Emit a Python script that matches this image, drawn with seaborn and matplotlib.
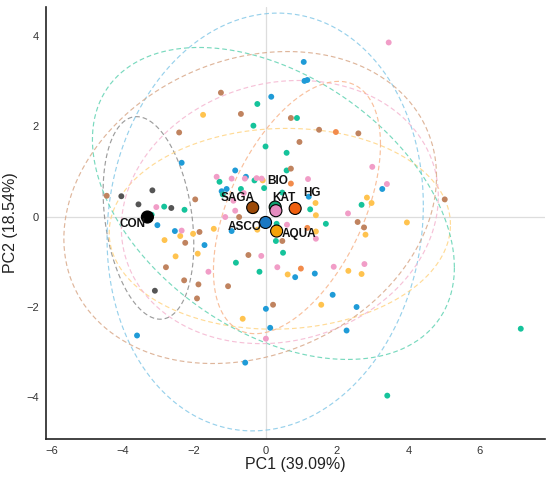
import numpy as np
import pandas as pd
import seaborn as sns
import matplotlib.pyplot as plt

# group order, used for hue / palette
groups = ["CON", "ASCO", "AQUA", "BIO", "KAT", "HG", "SAGA"]

# scores per group
con_x = [-4.04, -3.17, -3.56, -2.64, -3.10]
con_y = [0.45, 0.58, 0.27, 0.19, -1.64]

asco_x = [0.16, -2.35, -0.85, -0.55, -1.23, -1.09, 1.07, 1.09, 1.17, 3.27, 1.21, -3.03,
          -2.54, -1.71, -3.60, -0.57, 0.13, 0.01, 0.83, -0.95, 1.38, 1.88, 2.55, 2.27]
asco_y = [2.65, 1.19, 1.02, 0.88, 0.56, 0.61, 3.42, 3.00, 3.02, 0.61, 0.44, -0.19,
          -0.32, -0.63, -2.63, -3.23, -2.46, -2.04, -1.34, -0.32, -1.26, -1.73, -2.00, -2.52]

aqua_x = [-1.75, -0.08, 2.84, 2.97, 1.40, 1.41, -2.39, -2.03, -1.45, -2.83, -1.90,
          -2.52, -0.64, 0.62, 2.80, 3.96, 1.41, 2.32, 2.69, 1.56, -0.23, -0.31]
aqua_y = [2.25, 0.80, 0.42, 0.30, 0.30, 0.03, -0.43, -0.38, -0.27, -0.52, -0.82,
          -0.88, -2.26, -1.28, -0.40, -0.13, -0.33, -1.20, -1.27, -1.95, -0.29, 0.12]

bio_x = [-0.23, 0.88, -0.34, 0.00, 0.59, 0.59, -1.29, -0.31, -0.04, -1.20, -0.69, 0.47,
         -2.84, -2.27, -3.19, 2.69, 1.25, -0.83, -0.17, 0.49, 0.29, 0.31, 1.69, 7.15, 3.41]
bio_y = [2.49, 2.18, 2.01, 1.55, 1.41, 1.02, 0.77, 0.80, 0.63, 0.49, 0.61, 0.53,
         0.22, 0.15, 0.04, 0.26, 0.16, -1.02, -1.22, -0.80, -0.54, -0.16, -0.16, -2.48, -3.96]

kat_x = [3.45, -1.37, -0.95, -0.58, -0.25, -0.11, -0.61, -3.06, -0.85, 2.99, 1.19, 3.40,
         2.31, -2.35, -1.60, 0.01, -0.12, 0.33, 0.60, -1.13, 1.41, 1.91, 2.77, -0.90]
kat_y = [3.85, 0.88, 0.84, 0.84, 0.85, 0.84, 0.52, 0.21, 0.13, 1.10, 0.83, 0.72,
         0.07, -0.31, -1.22, -2.70, -0.87, -1.12, -0.18, -0.01, -0.49, -1.11, -1.05, 0.35]

hg_x = [0.71, 1.97, 1.17, 0.99]
hg_y = [0.73, 1.87, -0.25, -1.15]

saga_x = [-1.25, -0.69, 0.71, -2.42, 0.95, 0.71, -4.45, -1.97, 1.50, 2.60, 5.02, -1.85,
          -2.25, -2.79, -2.28, -1.88, -1.05, -1.92, 0.21, -0.48, 0.47, -0.74, 2.58, 2.76]
saga_y = [2.74, 2.27, 2.18, 1.86, 1.65, 1.06, 0.46, 0.38, 1.92, 1.84, 0.38, -0.34,
          -0.58, -1.12, -1.41, -1.50, -1.54, -1.81, -1.95, -0.85, -0.54, -0.01, -0.12, -0.24]

# group centroids
cent_x = [-3.31, 0.00, 0.31, 0.27, 0.29, 0.83, -0.36]
cent_y = [-0.01, -0.13, -0.32, 0.21, 0.13, 0.18, 0.20]

# 95% ellipses: centre, sd along PC1 / PC2 and correlation
ell_cx = [-3.28, -0.01, 0.40, 0.22, 0.40, 0.88, -0.43]
ell_cy = [-0.03, -0.12, -0.27, 0.29, 0.10, 0.20, 0.20]
ell_sx = [1.27, 4.43, 4.78, 5.07, 4.44, 2.34, 5.22]
ell_sy = [2.24, 4.62, 2.22, 3.45, 2.91, 2.79, 3.45]
ell_r = [-0.26, 0.08, 0.04, -0.41, 0.12, 0.50, 0.20]

point_cols = ["#555555", "#1f9bd7", "#ffc34f", "#15c39b", "#f19dc7", "#f28b4b", "#c0835f"]
cent_cols = ["#000000", "#1a78c2", "#f5a20a", "#0f9e6e", "#e58cbf", "#f0600f", "#9c4a08"]
ell_cols = ["#8c8c8c", "#86c9e8", "#ffd585", "#62d3b3", "#f5b7d1", "#f8b58c", "#d9a98a"]

xs = [con_x, asco_x, aqua_x, bio_x, kat_x, hg_x, saga_x]
ys = [con_y, asco_y, aqua_y, bio_y, kat_y, hg_y, saga_y]
df = pd.concat([pd.DataFrame({"PC1": x, "PC2": y, "group": g}) for g, x, y in zip(groups, xs, ys)])
cent = pd.DataFrame({"PC1": cent_x, "PC2": cent_y, "group": groups})

sns.set_theme(style="white")
plt.rcParams["font.family"] = ["Liberation Sans", "DejaVu Sans"]

fig, ax = plt.subplots(figsize=(5.5, 4.83), dpi=100)
fig.subplots_adjust(left=0.083, right=0.991, bottom=0.091, top=0.986)

ax.axhline(0, color="#dddddd", lw=0.9, zorder=0)
ax.axvline(0, color="#dddddd", lw=0.9, zorder=0)

t = np.linspace(0, 2 * np.pi, 300)
for i, g in enumerate(groups):
    r = ell_r[i]
    ex = ell_cx[i] + ell_sx[i] * np.cos(t)
    ey = ell_cy[i] + ell_sy[i] * (r * np.cos(t) + np.sqrt(1 - r * r) * np.sin(t))
    ax.plot(ex, ey, ls=(0, (4, 2.5)), lw=0.85, color=ell_cols[i], alpha=0.85, zorder=1)

sns.scatterplot(data=df, x="PC1", y="PC2", hue="group", hue_order=groups,
                palette=point_cols, s=18, linewidth=0, legend=False, ax=ax, zorder=2)
sns.scatterplot(data=cent, x="PC1", y="PC2", hue="group", hue_order=groups,
                palette=cent_cols, s=75, edgecolor="black", linewidth=0.8,
                legend=False, ax=ax, zorder=3)

# label offsets in pixels (layout only)
label_off = {"CON": (-15, -7), "ASCO": (-21, -5), "AQUA": (22, -3), "BIO": (3, 26),
             "KAT": (8, 13), "HG": (17, 15), "SAGA": (-15, 10)}
for g, x, y in zip(groups, cent_x, cent_y):
    ax.annotate(g, (x, y), xytext=label_off[g], textcoords="offset pixels",
                ha="center", va="center", fontsize=8.5, fontweight="bold",
                color="#111111", zorder=4)

ax.set_xlim(-6.16, 7.83)
ax.set_ylim(-4.92, 4.64)
ax.set_xticks([-6, -4, -2, 0, 2, 4, 6])
ax.set_yticks([-4, -2, 0, 2, 4])
ax.tick_params(labelsize=8, colors="#333333", length=0, pad=5)
ax.set_xlabel("PC1 (39.09%)", fontsize=11.5, color="#222222", labelpad=1)
ax.set_ylabel("PC2 (18.54%)", fontsize=11.5, color="#222222", labelpad=6)
sns.despine(ax=ax)
for s in ["left", "bottom"]:
    ax.spines[s].set_color("#222222")
    ax.spines[s].set_linewidth(1.2)

fig.savefig("out.png", dpi=100)
